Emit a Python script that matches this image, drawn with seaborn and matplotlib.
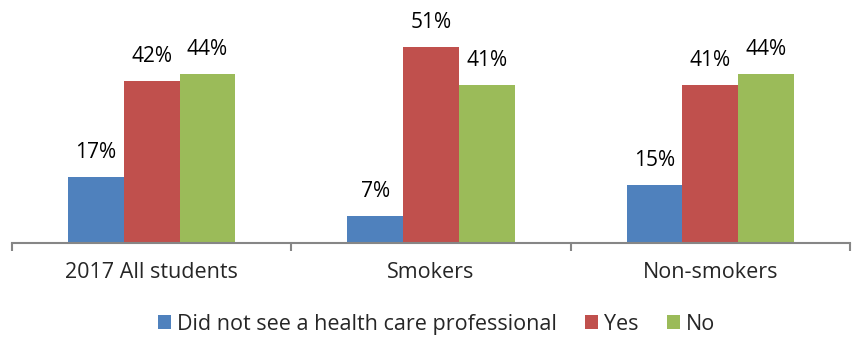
#!/usr/bin/env python3
import matplotlib
matplotlib.use('Agg')
import matplotlib.pyplot as plt
from matplotlib.patches import Patch
import seaborn as sns
import pandas as pd

#-----------
# DATA
#-----------
categories = ['2017 All students', 'Smokers', 'Non-smokers']
series = ['Did not see a health care professional', 'Yes', 'No']
did_not_see = [17, 7, 15]
yes = [42, 51, 41]
no = [44, 41, 44]
colors = ['#4F81BD', '#C0504D', '#9BBB59']

rows = []
for name, vals in zip(series, [did_not_see, yes, no]):
  for cat, v in zip(categories, vals):
    rows.append({'category': cat, 'series': name, 'value': v})
df = pd.DataFrame(rows)

sns.set_style('white')
plt.rcParams['font.family'] = ['Open Sans', 'DejaVu Sans']

fig = plt.figure(figsize=(8.56, 3.37), dpi=100)
ax = fig.add_axes([0.014, 0.28, 0.979, 0.684])

sns.barplot(data=df, x='category', y='value', hue='series', palette=colors,
            width=0.6, gap=0, ax=ax, legend=False, errorbar=None,
            saturation=1, edgecolor='none')

for cont in ax.containers:
  ax.bar_label(cont, labels=[f"{int(v)}%" for v in cont.datavalues], padding=10,
               fontsize=15, color='#000000')

ax.set_ylim(0, 60)
ax.set_xlim(-0.5, 2.5)
ax.set_yticks([])
ax.set_xlabel('')
ax.set_ylabel('')
for s in ['top', 'right', 'left']:
  ax.spines[s].set_visible(False)
ax.spines['bottom'].set_color('#868686')
ax.spines['bottom'].set_linewidth(1.5)
ax.set_xticks([-0.5, 0.5, 1.5, 2.5], minor=True)
ax.tick_params(axis='x', which='minor', length=6, width=1.5, color='#868686', direction='out', bottom=True)
ax.tick_params(axis='x', which='major', length=0, labelsize=15.5, pad=14)

# legend centred a little right of the figure, like the original
handles = [Patch(facecolor=c, edgecolor='none') for c in colors]
fig.legend(handles, series, loc='lower center', bbox_to_anchor=(0.51, 0.0), ncol=3,
           frameon=False, fontsize=15.5, handlelength=0.6, handleheight=0.6,
           handletextpad=0.3, columnspacing=1.3, borderpad=0.1, borderaxespad=0)

fig.savefig('out.png', dpi=100)
